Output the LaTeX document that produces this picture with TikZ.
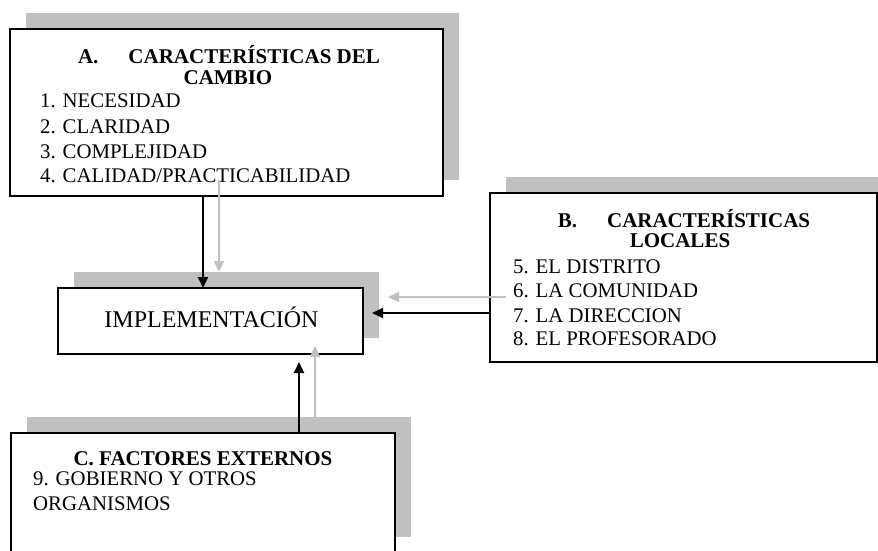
\documentclass[tikz,border=0pt]{standalone}
\usepackage{fontspec}
\setmainfont{Liberation Serif}
\usetikzlibrary{arrows.meta,calc,shadows}

\definecolor{shadowgray}{RGB}{192,192,192}

\tikzset{
  box/.style={draw=black, line width=2pt, fill=white, anchor=north west,
    inner sep=0pt, outer sep=0pt,
    drop shadow={shadow xshift=16pt, shadow yshift=16pt, fill=shadowgray, opacity=1}},
  ttl/.style={inner sep=0pt, anchor=base, font=\fontsize{21}{25}\selectfont\bfseries},
  itm/.style={inner sep=0pt, anchor=base west, font=\fontsize{20.8}{25}\selectfont},
  mid/.style={inner sep=0pt, anchor=base, font=\fontsize{24}{28}\selectfont},
  barrow/.style={draw=black, line width=1.8pt, -{Triangle[length=11pt,width=10pt]}},
  sarrow/.style={draw=shadowgray, line width=1.6pt, -{Triangle[length=11pt,width=10pt]}}
}

\begin{document}
\begin{tikzpicture}[x=1pt, y=-1pt]
  \useasboundingbox (0,0) rectangle (878,550);
  \clip (0,0) rectangle (878,550);

  % boxes with their drop shadows
  \node[box, minimum width=433pt, minimum height=167pt] (A) at (10,29) {};
  \node[box, minimum width=305pt, minimum height=66pt]  (I) at (58,288) {};
  \node[box, minimum width=387pt, minimum height=169pt] (B) at (490,193) {};
  \node[box, minimum width=384pt, minimum height=120pt] (C) at (11,433) {};

  % box A
  \node[ttl] (A1) at (229,63) {A.\hspace{30pt}CARACTERÍSTICAS DEL};
  \node[ttl] (A2) at (228,84) {CAMBIO};
  \node[itm] (A3) at (40,107) {1. NECESIDAD};
  \node[itm] (A4) at (40,133) {2. CLARIDAD};
  \node[itm] (A5) at (40,158) {3. COMPLEJIDAD};
  \node[itm] (A6) at (40,182) {4. CALIDAD/PRACTICABILIDAD};

  % central box
  \node[mid] (I1) at (211.5,327) {IMPLEMENTACIÓN};

  % box B
  \node[ttl] (B1) at (684,227) {B.\hspace{30pt}CARACTERÍSTICAS};
  \node[ttl] (B2) at (680,247) {LOCALES};
  \node[itm] (B3) at (513,273) {5. EL DISTRITO};
  \node[itm] (B4) at (513,297) {6. LA COMUNIDAD};
  \node[itm] (B5) at (513,322) {7. LA DIRECCION};
  \node[itm] (B6) at (513,345) {8. EL PROFESORADO};

  % box C
  \node[ttl] (C1) at (203,465) {C. FACTORES EXTERNOS};
  \node[itm] (C2) at (33,485) {9. GOBIERNO Y OTROS};
  \node[itm] (C3) at (33,510) {ORGANISMOS};

  % connector positions
  \coordinate (xa) at (203,0);
  \coordinate (yb) at (0,313);
  \coordinate (xc) at (299,0);

  % shadows of the connectors
  \draw[sarrow] ($(A.south -| xa)+(16,-16)$) -- ($(I.north -| xa)+(16,-16)$);
  \draw[sarrow] ($(B.west |- yb)+(16,-16)$) -- ($(I.east |- yb)+(25,-16)$);
  \draw[sarrow] ($(C.north -| xc)+(16,-16)$) -- ($(I.south -| xc)+(16,-8)$);

  % connectors
  \draw[barrow] (A.south -| xa) -- (I.north -| xa);
  \draw[barrow] (B.west |- yb) -- ($(I.east |- yb)+(9,0)$);
  \draw[barrow] (C.north -| xc) -- ($(I.south -| xc)+(0,8)$);
\end{tikzpicture}
\end{document}
